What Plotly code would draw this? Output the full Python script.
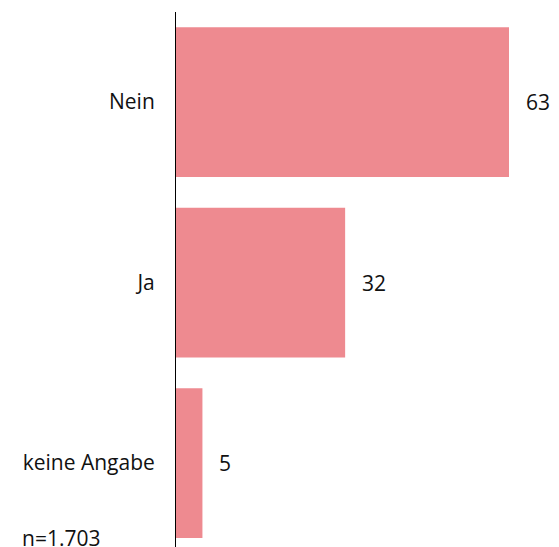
import plotly.graph_objects as go

categories = ["Nein", "Ja", "keine Angabe"]
values = [63, 32, 5]
note = "n=1.703"

bar_color = "#EE8A90"
font_family = "Open Sans"
fsize = 21

fig = go.Figure()
fig.add_trace(go.Bar(
    x=values, y=categories, orientation="h",
    marker=dict(color=bar_color, line=dict(width=0)),
    width=0.83, hoverinfo="skip",
))
for c, v in zip(categories, values):
    fig.add_annotation(x=v, y=c, text=str(v), showarrow=False,
                       xanchor="left", xshift=15,
                       font=dict(family=font_family, size=fsize, color="#111111"))
fig.add_annotation(xref="paper", yref="paper", x=-0.407, y=0.0168, yanchor="middle",
                   xanchor="left", text=note, showarrow=False,
                   font=dict(family=font_family, size=fsize, color="#111111"))

fig.update_layout(
    width=551, height=539,
    margin=dict(l=168, r=0, t=4, b=0),
    paper_bgcolor="white", plot_bgcolor="white",
    showlegend=False,
    font=dict(family=font_family, size=fsize, color="#111111"),
    xaxis=dict(range=[0, 72.46], visible=False, showgrid=False, zeroline=False),
    yaxis=dict(range=[2.465, -0.499], showline=True, linecolor="black", linewidth=1,
               showgrid=False, zeroline=False, ticks="", ticklabelstandoff=16,
               tickfont=dict(family=font_family, size=fsize, color="#111111")),
)
fig.write_html("out.html")
